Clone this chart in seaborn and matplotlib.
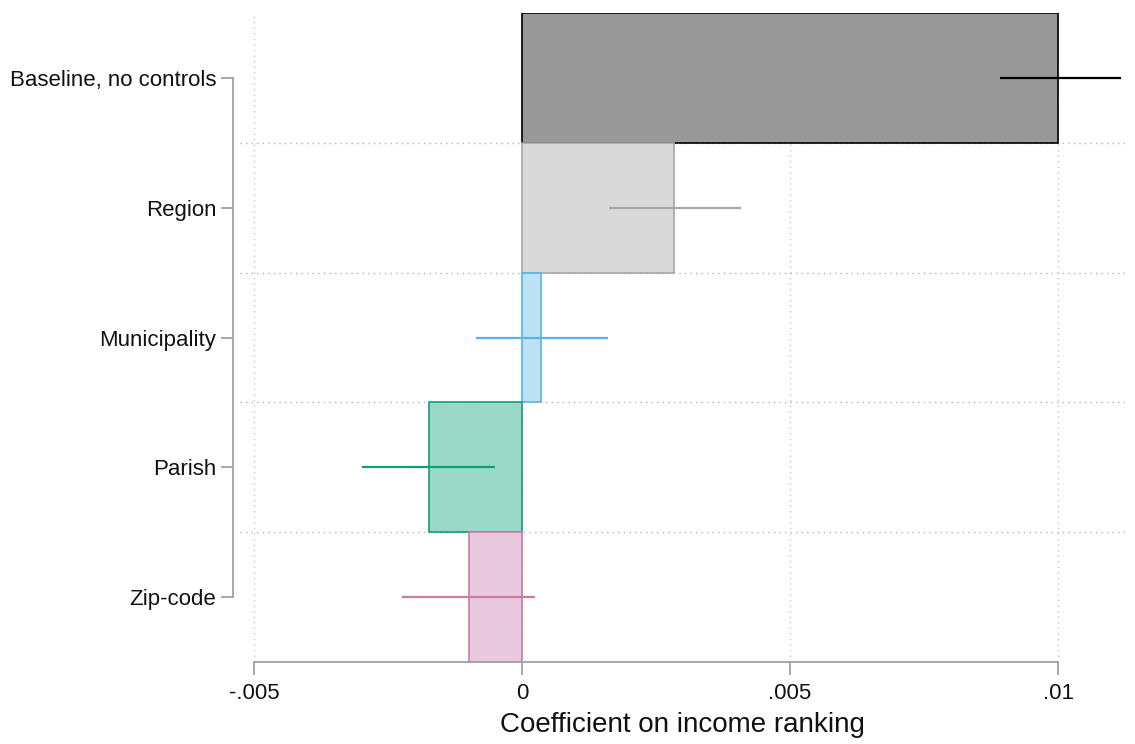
import matplotlib
matplotlib.use("Agg")
import matplotlib.pyplot as plt
import seaborn as sns
import pandas as pd

categories = ["Baseline, no controls", "Region", "Municipality", "Parish", "Zip-code"]
coef = [0.0100, 0.00284, 0.00035, -0.00174, -0.00099]
ci_low = [0.00892, 0.00162, -0.00086, -0.00299, -0.00224]
ci_high = [0.01118, 0.00409, 0.00160, -0.00050, 0.00024]
xticks = [-0.005, 0, 0.005, 0.01]
xtick_labels = ["-.005", "0", ".005", ".01"]

fill_colors = ["#999999", "#d9d9d9", "#bde1f5", "#9ad9c7", "#e9c9de"]
edge_colors = ["#000000", "#a6a6a6", "#56b4e9", "#109e77", "#cc79a7"]

sns.set_theme(style="white")
plt.rcParams["font.family"] = ["Liberation Sans", "DejaVu Sans"]

df = pd.DataFrame({"label": categories, "coef": coef})

fig = plt.figure(figsize=(11.35, 7.44), dpi=100)
ax = fig.add_axes([0.2115, 0.1102, 0.7797, 0.8723])

# Grid: dotted verticals at ticks, dotted horizontals between groups
for xt in xticks:
    ax.axvline(xt, color="#c8c8c8", linestyle=(0, (1, 3)), linewidth=1.0, zorder=0)
for i in range(len(categories) - 1):
    ax.axhline(i + 0.5, color="#b4b4b4", linestyle=(0, (1, 3)), linewidth=1.0, zorder=0)

sns.barplot(data=df, x="coef", y="label", hue="label", palette=fill_colors,
            saturation=1, orient="h", width=1.0, legend=False, ax=ax, zorder=2)

for patch, ec in zip(ax.patches, edge_colors):
    patch.set_edgecolor(ec)
    patch.set_linewidth(1.2)

# Confidence intervals
for i, (lo, hi, c) in enumerate(zip(ci_low, ci_high, edge_colors)):
    ax.plot([lo, hi], [i, i], color=c, linewidth=1.6, solid_capstyle="butt", zorder=3)

ax.set_xlim(-0.00526, 0.01125)
ax.set_ylim(4.5, -0.5)
ax.set_xticks(xticks)
ax.set_xticklabels(xtick_labels)
ax.set_yticks(range(len(categories)))
ax.set_yticklabels(categories)
ax.set_xlabel("Coefficient on income ranking", fontsize=20, color="#111111", labelpad=6)
ax.set_ylabel("")

for side in ["top", "right"]:
    ax.spines[side].set_visible(False)
for side in ["left", "bottom"]:
    ax.spines[side].set_color("#a0a0a0")
    ax.spines[side].set_linewidth(1.3)
ax.spines["bottom"].set_bounds(-0.005, 0.01)
ax.spines["left"].set_bounds(0, 4)
ax.spines["left"].set_position(("outward", 5))

ax.tick_params(axis="both", which="major", length=9, width=1.3, color="#a0a0a0",
               direction="out", left=True, bottom=True, labelsize=16,
               labelcolor="#111111")
ax.tick_params(axis="x", pad=6)
ax.tick_params(axis="y", pad=3)

fig.savefig("out.png", dpi=100)
